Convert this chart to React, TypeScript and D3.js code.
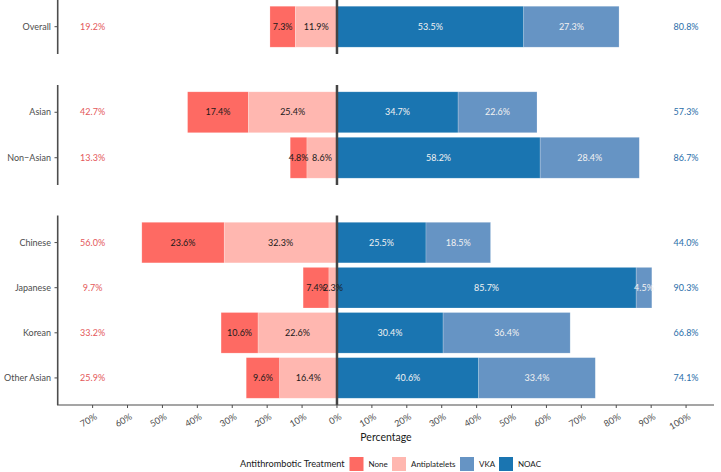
import React from "react";
import * as d3 from "d3";

// facets, top to bottom
const panels = [
  ["Overall"],
  ["Asian", "Non\u2212Asian"],
  ["Chinese", "Japanese", "Korean", "Other Asian"],
];

const categories = ["Overall", "Asian", "Non\u2212Asian", "Chinese", "Japanese", "Korean", "Other Asian"];
const noneVals = [7.3, 17.4, 4.8, 23.6, 7.4, 10.6, 9.6];
const antiVals = [11.9, 25.4, 8.6, 32.3, 2.3, 22.6, 16.4];
const vkaVals = [27.3, 22.6, 28.4, 18.5, 4.5, 36.4, 33.4];
const noacVals = [53.5, 34.7, 58.2, 25.5, 85.7, 30.4, 40.6];
const leftTotals = ["19.2%", "42.7%", "13.3%", "56.0%", "9.7%", "33.2%", "25.9%"];
const rightTotals = ["80.8%", "57.3%", "86.7%", "44.0%", "90.3%", "66.8%", "74.1%"];

const xTicks = d3.range(-7, 11).map(d => d / 10);
const legendItems = ["None", "Antiplatelets", "VKA", "NOAC"];

const colors = {
  None: "#fe6a63",
  Antiplatelets: "#ffb7b0",
  VKA: "#6694c4",
  NOAC: "#1a75b1",
};

const FONT = "Lato, 'Open Sans', sans-serif";
const GREY = "#4d4d4d";

const width = 721;
const height = 472;
const panelBox = [
  { top: -0.6, bottom: 54 },
  { top: 85, bottom: 185 },
  { top: 215.5, bottom: 405 },
];

export default function App() {
  const xScale = d3.scaleLinear().domain([-0.8, 1.08]).range([57.7, 714]);
  const x0 = xScale(0);

  const rows = categories.map((c, i) => {
    const none = noneVals[i] / 100;
    const anti = antiVals[i] / 100;
    const vka = vkaVals[i] / 100;
    const noac = noacVals[i] / 100;
    return {
      c,
      segs: [
        { key: "None", v0: -(none + anti), v1: -anti, val: noneVals[i] },
        { key: "Antiplatelets", v0: -anti, v1: 0, val: antiVals[i] },
        { key: "NOAC", v0: 0, v1: noac, val: noacVals[i] },
        { key: "VKA", v0: noac, v1: noac + vka, val: vkaVals[i] },
      ],
      left: leftTotals[i],
      right: rightTotals[i],
    };
  });

  return (
    <svg width={width} height={height} style={{ position: "absolute", left: 0, top: 0, fontFamily: FONT }}>
      {panels.map((cats, p) => {
        const { top, bottom } = panelBox[p];
        const yScale = d3
          .scaleLinear()
          .domain([0.4, cats.length + 0.6])
          .range([top, bottom]);
        const step = yScale(2) - yScale(1);
        const h = step * 0.9;
        const panelRows = cats.map((c, j) => ({ row: rows.find(r => r.c === c)!, cy: yScale(j + 1) }));
        return (
          <g key={p}>
            {panelRows.map(({ row, cy }) =>
              row.segs.map(s => (
                <rect
                  key={row.c + s.key}
                  x={xScale(s.v0)}
                  y={cy - h / 2}
                  width={xScale(s.v1) - xScale(s.v0)}
                  height={h}
                  fill={colors[s.key as keyof typeof colors]}
                  stroke="#ffffff"
                  strokeOpacity={0.35}
                  strokeWidth={0.6}
                />
              ))
            )}
            <line x1={x0} x2={x0} y1={Math.max(top, 0)} y2={bottom} stroke="#444444" strokeWidth={2.5} />
            <line x1={57.7} x2={57.7} y1={Math.max(top, 0)} y2={bottom} stroke={GREY} strokeWidth={1.6} />
            {panelRows.map(({ row, cy }) => (
              <g key={row.c}>
                {row.segs.map(s => {
                  const dark = s.key === "VKA" || s.key === "NOAC";
                  return (
                    <text
                      key={s.key}
                      x={(xScale(s.v0) + xScale(s.v1)) / 2}
                      y={cy}
                      dy="0.35em"
                      textAnchor="middle"
                      fontSize={9}
                      fill={dark ? "#f2f2f2" : "#1a1a1a"}
                    >
                      {s.val.toFixed(1) + "%"}
                    </text>
                  );
                })}
                <text x={xScale(-0.7)} y={cy} dy="0.35em" textAnchor="middle" fontSize={9} fill="#e4585a">
                  {row.left}
                </text>
                <text x={xScale(1)} y={cy} dy="0.35em" textAnchor="middle" fontSize={9} fill="#2a6ea9">
                  {row.right}
                </text>
                <line x1={54.5} x2={57.7} y1={cy} y2={cy} stroke={GREY} strokeWidth={1} />
                <text x={51} y={cy} dy="0.35em" textAnchor="end" fontSize={9} fill={GREY}>
                  {row.c}
                </text>
              </g>
            ))}
          </g>
        );
      })}

      {/* bottom axis */}
      <line x1={57} x2={714} y1={405} y2={405} stroke={GREY} strokeWidth={1.2} />
      {xTicks.map(t => (
        <g key={t}>
          <line x1={xScale(t)} x2={xScale(t)} y1={405} y2={408} stroke={GREY} strokeWidth={1} />
          <text
            transform={`translate(${xScale(t) + 2},${413}) rotate(-30)`}
            textAnchor="end"
            dy="0.7em"
            fontSize={9}
            fill={GREY}
          >
            {Math.round(Math.abs(t) * 100) + "%"}
          </text>
        </g>
      ))}
      <text x={386} y={437} dy="0.35em" textAnchor="middle" fontSize={10.5} fill="#1a1a1a">
        Percentage
      </text>

      {/* legend */}
      <text x={240} y={464} dy="0.35em" fontSize={9.2} fill="#1a1a1a">
        Antithrombotic Treatment
      </text>
      {legendItems.map((k, i) => {
        const kx = [349.5, 392, 460, 499][i];
        return (
          <g key={k}>
            <rect x={kx} y={457} width={14} height={14} fill={colors[k as keyof typeof colors]} />
            <text x={kx + 19} y={464} dy="0.35em" fontSize={8} fill="#1a1a1a">
              {k}
            </text>
          </g>
        );
      })}
    </svg>
  );
}
